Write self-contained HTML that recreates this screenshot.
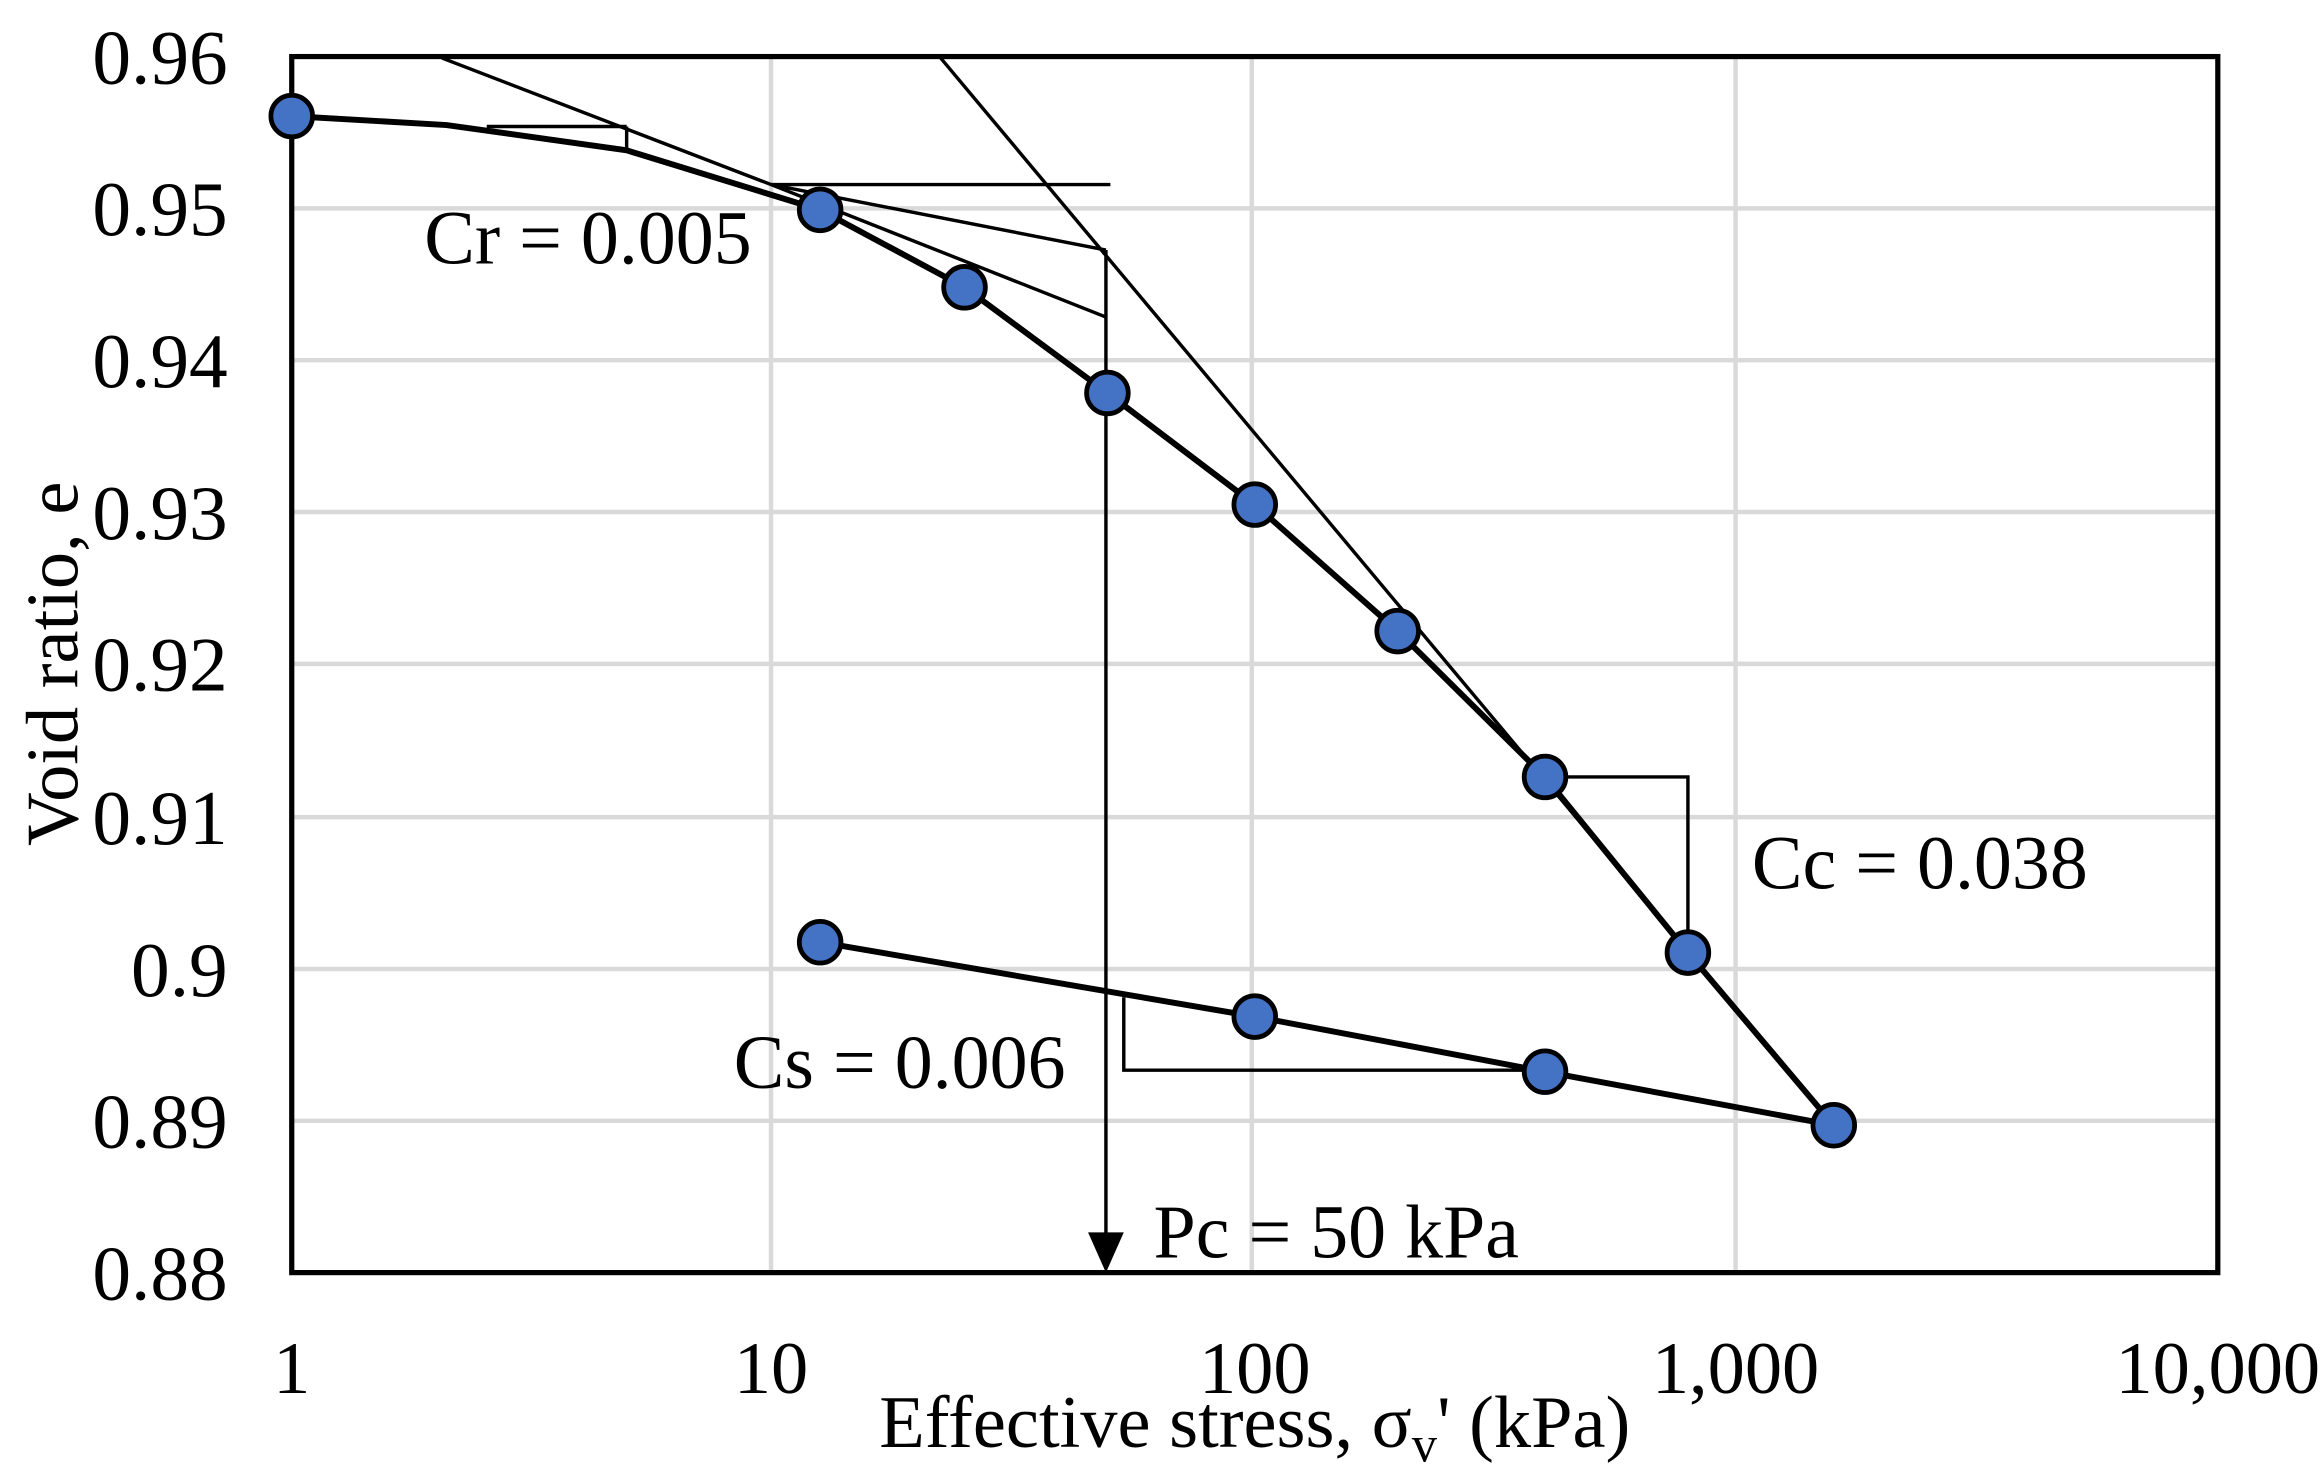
<!DOCTYPE html>
<html><head><meta charset="utf-8"><style>html,body{margin:0;padding:0;background:#fff}svg{display:block}</style></head>
<body>
<svg width="2322" height="1481" viewBox="0 0 1560 995" preserveAspectRatio="none" xmlns="http://www.w3.org/2000/svg" font-family="Liberation Serif, serif">
<rect width="1560" height="995" fill="#fff"/>
<g stroke="#d9d9d9" stroke-width="3">
<line x1="518" y1="38" x2="518" y2="855"/><line x1="841" y1="38" x2="841" y2="855"/><line x1="1166" y1="38" x2="1166" y2="855"/>
<line x1="196" y1="140" x2="1490" y2="140"/><line x1="196" y1="242" x2="1490" y2="242"/><line x1="196" y1="344" x2="1490" y2="344"/><line x1="196" y1="446" x2="1490" y2="446"/><line x1="196" y1="549" x2="1490" y2="549"/><line x1="196" y1="651" x2="1490" y2="651"/><line x1="196" y1="753" x2="1490" y2="753"/>
</g>
<rect x="196" y="38" width="1294" height="817" fill="none" stroke="#000" stroke-width="3.5"/>
<g stroke="#000" stroke-width="2.3" fill="none">
<line x1="297" y1="39" x2="518" y2="124"/>
<line x1="327" y1="85" x2="421" y2="85"/><line x1="421" y1="85" x2="421" y2="101"/>
<line x1="518" y1="124" x2="746" y2="124"/>
<line x1="518" y1="124" x2="743" y2="168"/>
<line x1="518" y1="124" x2="743" y2="213"/>
<line x1="632" y1="39" x2="1232" y2="756"/>
<line x1="743" y1="168" x2="743" y2="830"/>
<polyline points="1038,522 1134,522 1134,640"/>
<polyline points="755,670 755,719 1038,719"/>
</g>
<polygon points="731,828 755,828 743,855" fill="#000"/>
<g stroke="#000" stroke-width="4" fill="none">
<polyline points="196,78 300,84 421,101 551,141 648,193 744,264 843,339 939,424 1038,522 1134,640 1232,756 1038,720 843,683 551,633"/>
</g>
<g fill="#4472c4" stroke="#000" stroke-width="3.2">
<ellipse cx="196" cy="78" rx="14" ry="14"/><ellipse cx="551" cy="141" rx="14" ry="14"/><ellipse cx="648" cy="193" rx="14" ry="14"/><ellipse cx="744" cy="264" rx="14" ry="14"/><ellipse cx="843" cy="339" rx="14" ry="14"/><ellipse cx="939" cy="424" rx="14" ry="14"/><ellipse cx="1038" cy="522" rx="14" ry="14"/><ellipse cx="1134" cy="640" rx="14" ry="14"/><ellipse cx="1232" cy="756" rx="14" ry="14"/><ellipse cx="1038" cy="720" rx="14" ry="14"/><ellipse cx="843" cy="683" rx="14" ry="14"/><ellipse cx="551" cy="633" rx="14" ry="14"/>
</g>
<g font-size="52" fill="#000" text-anchor="end">
<text x="153" y="56">0.96</text><text x="153" y="158">0.95</text><text x="153" y="260">0.94</text><text x="153" y="362">0.93</text><text x="153" y="464">0.92</text><text x="153" y="567">0.91</text><text x="153" y="669">0.9</text><text x="153" y="771">0.89</text><text x="153" y="873">0.88</text>
</g>
<g font-size="50" fill="#000" text-anchor="middle">
<text x="196" y="936">1</text><text x="518" y="936">10</text><text x="843" y="936">100</text><text x="1166" y="936">1,000</text><text x="1490" y="936">10,000</text>
<text x="843" y="972">Effective stress, σ<tspan font-size="34" dy="10">v</tspan><tspan dy="-10">' (kPa)</tspan></text>
<text transform="translate(52,446) rotate(-90)">Void ratio, e</text>
</g>
<g font-size="51" fill="#000">
<text x="285" y="177">Cr = 0.005</text>
<text x="1177" y="597">Cc = 0.038</text>
<text x="493" y="731">Cs = 0.006</text>
<text x="775" y="845">Pc = 50 kPa</text>
</g>
</svg>
</body></html>
